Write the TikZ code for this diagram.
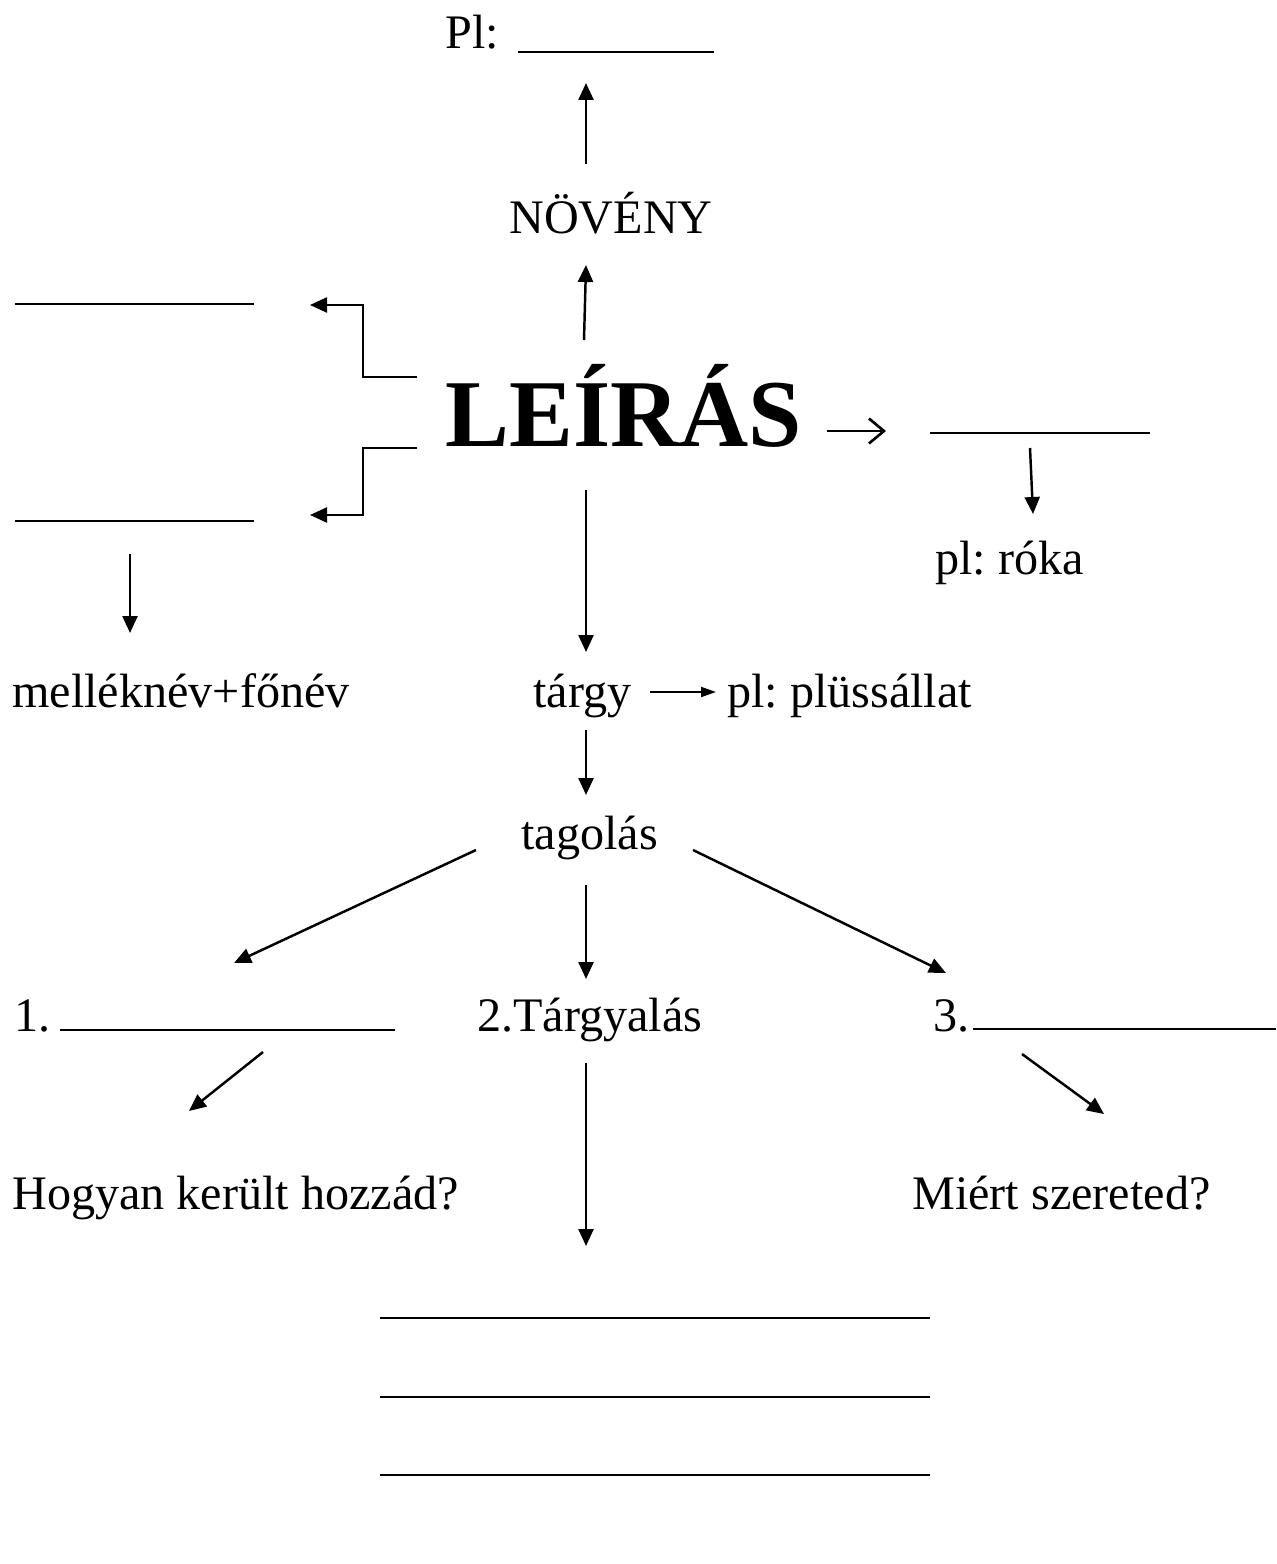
\documentclass[tikz,border=0pt]{standalone}
\usepackage{fontspec}
\setmainfont{Liberation Serif}
\usetikzlibrary{arrows.meta}
\frenchspacing
\begin{document}
\begin{tikzpicture}[x=0.02cm,y=-0.02cm,
  txt/.style={anchor=base west,inner sep=0pt,font=\fontsize{27.4}{32}\selectfont},
  bigtxt/.style={anchor=base west,inner sep=0pt,font=\fontsize{54.5}{60}\selectfont\bfseries},
  blank/.style={line width=1.1pt},
  arr/.style={line width=1.4pt,-{Triangle[length=0.34cm,width=0.3cm]}},
  smallarr/.style={line width=1.1pt,-{Triangle[length=0.3cm,width=0.2cm]}},
  barb/.style={line width=1.5pt,-{Straight Barb[length=0.3cm,width=0.5cm]}}]
\useasboundingbox (0,0) rectangle (1276,1564);

% texts
\node[txt] (pl) at (445,49) {Pl:};
\node[txt] (noveny) at (509,234) {NÖVÉNY};
\node[bigtxt] (leiras) at (445,446) {LEÍRÁS};
\node[txt] (roka) at (935,574) {pl: róka};
\node[txt] (mell) at (12,707) {melléknév+főnév};
\node[txt] (targy) at (533,707) {tárgy};
\node[txt] (plus) at (727,707) {pl: plüssállat};
\node[txt] (tag) at (521,849) {tagolás};
\node[txt] (one) at (14,1031) {1.};
\node[txt] (two) at (477,1031) {2.Tárgyalás};
\node[txt] (three) at (933,1031) {3.};
\node[txt] (hogy) at (12,1209) {Hogyan került hozzád?};
\node[txt] (miert) at (912,1209) {Miért szereted?};

% blank lines
\coordinate (plA) at (518,52); \coordinate (plB) at (714,52);
\draw[blank] (plA) -- (plB);
\coordinate (l1A) at (15,304); \coordinate (l1B) at (254,304);
\draw[blank] (l1A) -- (l1B);
\coordinate (l2A) at (15,521); \coordinate (l2B) at (254,521);
\draw[blank] (l2A) -- (l2B);
\coordinate (rA) at (930,433); \coordinate (rB) at (1150,433);
\draw[blank] (rA) -- (rB);
\coordinate (oneA) at (60,1030); \coordinate (oneB) at (395,1030);
\draw[blank] (oneA) -- (oneB);
\coordinate (thrA) at (973,1029); \coordinate (thrB) at (1276,1029);
\draw[blank] (thrA) -- (thrB);
\coordinate (b1A) at (380,1318); \coordinate (b1B) at (930,1318);
\draw[blank] (b1A) -- (b1B);
\coordinate (b2A) at (380,1397); \coordinate (b2B) at (930,1397);
\draw[blank] (b2A) -- (b2B);
\coordinate (b3A) at (380,1475); \coordinate (b3B) at (930,1475);
\draw[blank] (b3A) -- (b3B);

% arrows
\coordinate (a1s) at (586,164); \coordinate (a1e) at (586,83);
\draw[arr] (a1s) -- (a1e);
\coordinate (a2s) at (584,340); \coordinate (a2e) at (586,265);
\draw[arr] (a2s) -- (a2e);
\coordinate (bt1) at (417,377); \coordinate (bt2) at (310,305);
\draw[arr] (bt1) -- (363,377) |- (bt2);
\coordinate (bb1) at (417,448); \coordinate (bb2) at (310,515);
\draw[arr] (bb1) -- (363,448) |- (bb2);
\coordinate (ra1) at (827,431); \coordinate (ra2) at (886,431);
\draw[barb] (ra1) -- (ra2);
\coordinate (rd1) at (1030,448); \coordinate (rd2) at (1033,514);
\draw[arr] (rd1) -- (rd2);
\coordinate (md1) at (130,554); \coordinate (md2) at (130,633);
\draw[arr] (md1) -- (md2);
\coordinate (ld1) at (586,490); \coordinate (ld2) at (586,652);
\draw[arr] (ld1) -- (ld2);
\coordinate (tp1) at (650,692); \coordinate (tp2) at (716,692);
\draw[smallarr] (tp1) -- (tp2);
\coordinate (td1) at (586,730); \coordinate (td2) at (586,795);
\draw[arr] (td1) -- (td2);
\coordinate (g1s) at (476,850); \coordinate (g1e) at (234,963);
\draw[arr] (g1s) -- (g1e);
\coordinate (g2s) at (586,885); \coordinate (g2e) at (586,979);
\draw[arr] (g2s) -- (g2e);
\coordinate (g3s) at (693,850); \coordinate (g3e) at (946,973);
\draw[arr] (g3s) -- (g3e);
\coordinate (h1s) at (263,1052); \coordinate (h1e) at (189,1111);
\draw[arr] (h1s) -- (h1e);
\coordinate (t2s) at (586,1063); \coordinate (t2e) at (586,1246);
\draw[arr] (t2s) -- (t2e);
\coordinate (m1s) at (1022,1054); \coordinate (m1e) at (1104,1114);
\draw[arr] (m1s) -- (m1e);
\end{tikzpicture}
\end{document}
